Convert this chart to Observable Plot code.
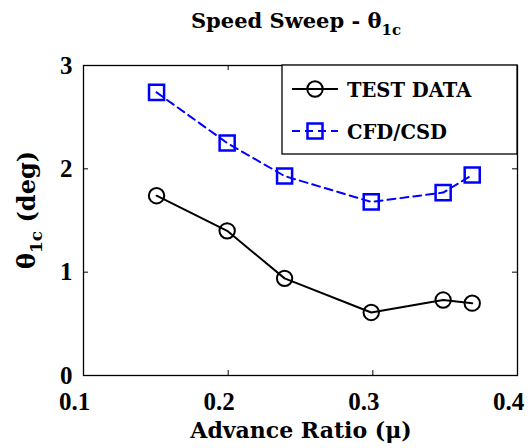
<!DOCTYPE html>
<html><head><meta charset="utf-8">
<script src="https://cdn.jsdelivr.net/npm/d3@7"></script>
<script src="https://cdn.jsdelivr.net/npm/@observablehq/plot@0.6"></script>
<style>body{margin:0;background:#fff}#chart svg{display:block}</style>
</head><body><div id="chart"></div>
<script>
// ---- data ----
const mu = [0.1505, 0.1993, 0.239, 0.2989, 0.3486, 0.3687];
const testData = [1.74, 1.40, 0.94, 0.61, 0.73, 0.70];
const cfdCsd = [2.74, 2.25, 1.93, 1.68, 1.77, 1.94];
const seriesNames = ["TEST DATA", "CFD/CSD"];
const xTicks = [0.1, 0.2, 0.3, 0.4];
const yTicks = [0, 1, 2, 3];
const xMinor = [0.2, 0.3];
const yMinor = [1, 2];
const titleMain = "Speed Sweep - θ";
const titleSub = "1c";
const xLabel = "Advance Ratio (μ)";
const yLabelMain = "θ";
const yLabelSub = "1c";
const yLabelRest = " (deg)";

const testRows = mu.map((m, i) => ({mu: m, v: testData[i]}));
const cfdRows = mu.map((m, i) => ({mu: m, v: cfdCsd[i]}));

const W = 528, H = 448, ML = 83, MR = 11, MT = 65, MB = 73;
const FW = W - ML - MR, FH = H - MT - MB;
const TICK = 5;
const labelFont = "DejaVu Serif";
const tickFont = "Liberation Serif";
const blue = "#0000ff";

const chart = Plot.plot({
  width: W, height: H,
  marginLeft: ML, marginRight: MR, marginTop: MT, marginBottom: MB,
  style: {background: "#fff", color: "#000", fontFamily: labelFont, fontWeight: "bold", overflow: "visible"},
  x: {domain: [0.1, 0.4]},
  y: {domain: [0, 3]},
  marks: [
    // inward ticks on all four sides
    Plot.ruleX(xMinor, {x: d => d, insetTop: FH - TICK, stroke: "#000", strokeWidth: 1}),
    Plot.ruleX(xMinor, {x: d => d, insetBottom: FH - TICK, stroke: "#000", strokeWidth: 1}),
    Plot.ruleY(yMinor, {y: d => d, insetRight: FW - TICK, stroke: "#000", strokeWidth: 1}),
    Plot.ruleY(yMinor, {y: d => d, insetLeft: FW - TICK, stroke: "#000", strokeWidth: 1}),
    Plot.axisX(xTicks, {anchor: "bottom", tickSize: 0, tickPadding: 17, dx: -9, tickFormat: d => d.toFixed(1),
      label: null, fontFamily: tickFont, fontSize: 25, fontWeight: "bold"}),
    Plot.axisY(yTicks, {anchor: "left", tickSize: 0, tickPadding: 11, tickFormat: d => String(d),
      label: null, fontFamily: tickFont, fontSize: 25, fontWeight: "bold"}),
    Plot.line(cfdRows, {x: "mu", y: "v", stroke: blue, strokeWidth: 2, strokeDasharray: "8,5"}),
    Plot.dot(cfdRows, {x: "mu", y: "v", symbol: "square", r: 8.5, stroke: blue, strokeWidth: 2.5, fill: "none"}),
    Plot.line(testRows, {x: "mu", y: "v", stroke: "#000", strokeWidth: 2}),
    Plot.dot(testRows, {x: "mu", y: "v", r: 7.7, stroke: "#000", strokeWidth: 2, fill: "none"}),
    Plot.frame({stroke: "#000", strokeWidth: 1.3})
  ]
});
document.getElementById("chart").appendChild(chart);

const svg = d3.select(chart);

// title
const t = svg.append("text").attr("x", 296).attr("y", 28).attr("text-anchor", "middle")
  .attr("font-family", labelFont).attr("font-weight", "bold").attr("font-size", 21).attr("fill", "#000");
t.append("tspan").text(titleMain);
t.append("tspan").attr("dy", 7).attr("font-size", 15).text(titleSub);

// x label
svg.append("text").attr("x", 301).attr("y", 438).attr("text-anchor", "middle")
  .attr("font-family", labelFont).attr("font-weight", "bold").attr("font-size", 22).attr("fill", "#000")
  .text(xLabel);

// y label
const yl = svg.append("text").attr("transform", "translate(35,210) rotate(-90)").attr("text-anchor", "middle")
  .attr("font-family", labelFont).attr("font-weight", "bold").attr("font-size", 24).attr("fill", "#000");
yl.append("tspan").text(yLabelMain);
yl.append("tspan").attr("dy", 7).attr("font-size", 17).text(yLabelSub);
yl.append("tspan").attr("dy", -7).text(yLabelRest);

// legend
const lg = svg.append("g");
lg.append("rect").attr("x", 282).attr("y", MT).attr("width", W - MR - 282).attr("height", 154 - MT)
  .attr("fill", "#fff").attr("stroke", "#000").attr("stroke-width", 1.3);
const rowsY = [89, 131];
const styles = [
  {stroke: "#000", dash: null, sym: "circle"},
  {stroke: blue, dash: "8,5", sym: "square"}
];
seriesNames.forEach((name, i) => {
  const y = rowsY[i], s = styles[i];
  lg.append("line").attr("x1", 292).attr("x2", 338).attr("y1", y).attr("y2", y)
    .attr("stroke", s.stroke).attr("stroke-width", 2).attr("stroke-dasharray", s.dash);
  if (s.sym === "circle") {
    lg.append("circle").attr("cx", 315).attr("cy", y).attr("r", 7.7).attr("fill", "none")
      .attr("stroke", s.stroke).attr("stroke-width", 2);
  } else {
    lg.append("rect").attr("x", 315 - 7.5).attr("y", y - 7.5).attr("width", 15).attr("height", 15)
      .attr("fill", "none").attr("stroke", s.stroke).attr("stroke-width", 2.5);
  }
  lg.append("text").attr("x", 347).attr("y", y + 8).attr("text-anchor", "start")
    .attr("font-family", labelFont).attr("font-weight", "bold")
    .attr("font-size", 19.5).attr("fill", "#000").text(name);
});
</script>
</body></html>
